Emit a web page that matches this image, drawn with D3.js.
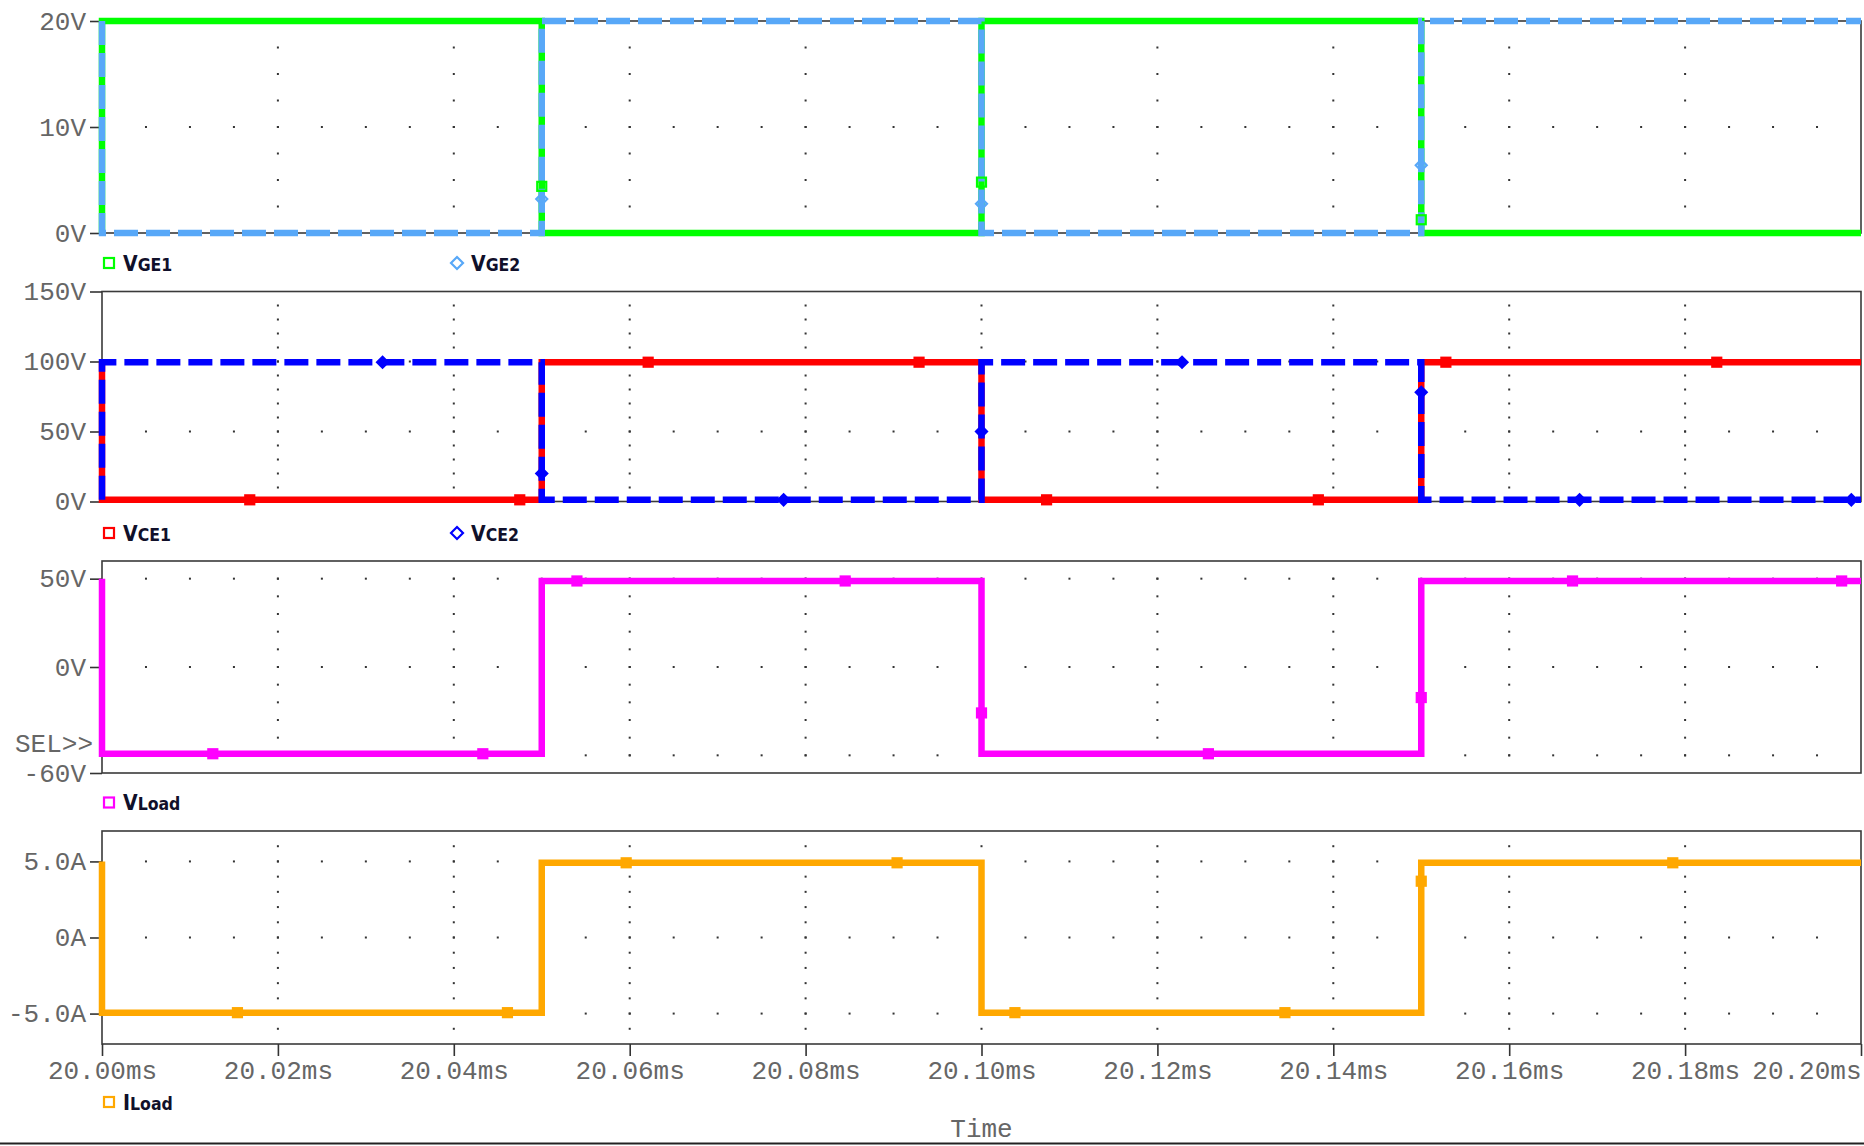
<!DOCTYPE html>
<html>
<head>
<meta charset="utf-8">
<script src="https://cdn.jsdelivr.net/npm/d3@7"></script>
<style>
  html, body { margin: 0; padding: 0; background: #fff; }
  svg { display: block; }
  .tick text, .mono { font-family: "Liberation Mono", "Courier New", monospace; font-size: 26px; fill: #666; }
  .legend-text { font-family: "DejaVu Sans Condensed", "DejaVu Sans", sans-serif; font-stretch: condensed; font-weight: bold; fill: #10102a; }
</style>
</head>
<body>
<svg id="chart" width="1864" height="1146"></svg>
<script>
// ---- Time axis (ms) ----
const timeTicks = [20.00, 20.02, 20.04, 20.06, 20.08, 20.10, 20.12, 20.14, 20.16, 20.18, 20.20];
const timeTickLabels = ["20.00ms", "20.02ms", "20.04ms", "20.06ms", "20.08ms", "20.10ms",
                        "20.12ms", "20.14ms", "20.16ms", "20.18ms", "20.20ms"];

// Switching instants of the traces (ms); each step is a vertical edge
const edgeTime = [20.00, 20.00, 20.05, 20.05, 20.10, 20.10, 20.15, 20.15, 20.20];

// Gate-emitter voltages (V)
const vge1 = [0, 20, 20, 0, 0, 20, 20, 0, 0];
const vge2 = [20, 0, 0, 20, 20, 0, 0, 20, 20];

// Collector-emitter voltages (V)
const vce1 = [99.5, 1.2, 1.2, 99.5, 99.5, 1.2, 1.2, 99.5, 99.5];
const vce2 = [1.2, 99.5, 99.5, 1.2, 1.2, 99.5, 99.5, 1.2, 1.2];

// Load voltage (V) and load current (A)
const vload = [50, -49.1, -49.1, 48.7, 48.7, -49.1, -49.1, 48.7, 48.7];
const iload = [5.0, -4.94, -4.94, 4.91, 4.91, -4.94, -4.94, 4.91, 4.91];

// Trace symbols (time ms, value)
const vge1MarkT = [20.05, 20.10, 20.15];
const vge1MarkV = [4.4, 4.8, 1.25];
const vge2MarkT = [20.05, 20.10, 20.15];
const vge2MarkV = [3.2, 2.75, 6.4];
const vce1MarkT = [20.0168, 20.0475, 20.0621, 20.0929, 20.1074, 20.1383, 20.1528, 20.1836];
const vce1MarkV = [1.2, 1.2, 99.5, 99.5, 1.2, 1.2, 99.5, 99.5];
const vce2MarkT = [20.0319, 20.05, 20.0775, 20.10, 20.1228, 20.15, 20.168, 20.1989];
const vce2MarkV = [99.5, 20, 1.2, 50, 99.5, 78, 1.2, 1.2];
const vloadMarkT = [20.0126, 20.0433, 20.054, 20.0845, 20.10, 20.1258, 20.15, 20.1672, 20.1978];
const vloadMarkV = [-49.1, -49.1, 48.7, 48.7, -26, -49.1, -17.3, 48.7, 48.7];
const iloadMarkT = [20.0154, 20.0461, 20.0596, 20.0904, 20.1038, 20.1345, 20.15, 20.1786];
const iloadMarkV = [-4.94, -4.94, 4.91, 4.91, -4.94, -4.94, 3.7, 4.91];

// ---- Y axis ticks per plot ----
const vgeTicks = [0, 10, 20];
const vgeTickLabels = ["0V", "10V", "20V"];
const vceTicks = [0, 50, 100, 150];
const vceTickLabels = ["0V", "50V", "100V", "150V"];
const vloadTicks = [-60, 0, 50];
const vloadTickLabels = ["-60V", "0V", "50V"];
const iloadTicks = [-5, 0, 5];
const iloadTickLabels = ["-5.0A", "0A", "5.0A"];

// ---- Layout ----
const svg = d3.select("#chart");
const left = 102, right = 1861;
const x = d3.scaleLinear().domain([20.00, 20.20]).range([left, right]);
const traceWidth = 6.5;

const plots = [
  { top: 21, bottom: 233, domain: [0, 20], ticks: vgeTicks, labels: vgeTickLabels,
    dotStep: 2.5, rows: [10], legendY: 263,
    traces: [
      { name: ["V", "GE1"], values: vge1, color: "#00ff00", dash: null, symbol: "square", fill: false, mt: vge1MarkT, mv: vge1MarkV },
      { name: ["V", "GE2"], values: vge2, color: "#58a8f8", dash: "24,8", symbol: "diamond", fill: false, mt: vge2MarkT, mv: vge2MarkV }
    ] },
  { top: 291.5, bottom: 501.5, domain: [0, 150], ticks: vceTicks, labels: vceTickLabels,
    dotStep: 10, rows: [50, 100], legendY: 533,
    traces: [
      { name: ["V", "CE1"], values: vce1, color: "#ff0000", dash: null, symbol: "square", fill: true, mt: vce1MarkT, mv: vce1MarkV },
      { name: ["V", "CE2"], values: vce2, color: "#0000ff", dash: "24,8", symbol: "diamond", fill: true, mt: vce2MarkT, mv: vce2MarkV }
    ] },
  { top: 561, bottom: 773, domain: [-60, 60], ticks: vloadTicks, labels: vloadTickLabels,
    dotStep: 10, rows: [-50, 0, 50], legendY: 802.5, sel: true,
    traces: [
      { name: ["V", "Load"], values: vload, color: "#ff00ff", dash: null, symbol: "square", fill: true, mt: vloadMarkT, mv: vloadMarkV }
    ] },
  { top: 831, bottom: 1044, domain: [-7, 7], ticks: iloadTicks, labels: iloadTickLabels,
    dotStep: 1, rows: [-5, 0, 5], legendY: 1102, xAxis: true,
    traces: [
      { name: ["I", "Load"], values: iload, color: "#ffa800", dash: null, symbol: "square", fill: true, mt: iloadMarkT, mv: iloadMarkV }
    ] }
];

const legendX = [109, 457];

function drawSymbol(g, type, cx, cy, color, size, filled) {
  const fill = filled ? color : "none";
  if (type === "square") {
    g.append("rect")
      .attr("x", cx - size / 2).attr("y", cy - size / 2)
      .attr("width", size).attr("height", size)
      .attr("fill", fill).attr("stroke", color).attr("stroke-width", 2.2);
  } else {
    const h = size / 2 + 1;
    g.append("path")
      .attr("d", `M${cx},${cy - h}L${cx + h},${cy}L${cx},${cy + h}L${cx - h},${cy}Z`)
      .attr("fill", fill).attr("stroke", color).attr("stroke-width", 2.2);
  }
}

plots.forEach(p => {
  const y = d3.scaleLinear().domain(p.domain).range([p.bottom, p.top]);
  const g = svg.append("g");

  // dotted grid: columns at the major time ticks, rows at selected levels
  const dots = g.append("g").attr("fill", "#333");
  const inner = timeTicks.slice(1, -1);
  const lo = p.domain[0], hi = p.domain[1];
  const colVals = d3.range(lo + p.dotStep, hi - p.dotStep / 2, p.dotStep);
  inner.forEach(t => {
    colVals.forEach(v => {
      dots.append("rect").attr("x", x(t) - 1).attr("y", y(v) - 1).attr("width", 2).attr("height", 2);
    });
  });
  const rowTimes = d3.range(1, 40).map(i => 20.00 + i * 0.005);
  p.rows.forEach(v => {
    rowTimes.forEach(t => {
      dots.append("rect").attr("x", x(t) - 1).attr("y", y(v) - 1).attr("width", 2).attr("height", 2);
    });
  });

  // plot frame
  g.append("rect")
    .attr("x", left).attr("y", p.top)
    .attr("width", right - left).attr("height", p.bottom - p.top)
    .attr("fill", "none").attr("stroke", "#3a3a3a").attr("stroke-width", 1.6);

  // y axis
  const yAxis = d3.axisLeft(y)
    .tickValues(p.ticks)
    .tickFormat((d, i) => p.labels[i])
    .tickSize(12).tickPadding(4);
  const ya = g.append("g").attr("transform", `translate(${left},0)`).call(yAxis);
  ya.select(".domain").remove();
  ya.selectAll(".tick line").attr("stroke", "#333").attr("stroke-width", 1.6);
  ya.attr("font-family", null).attr("font-size", null);

  if (p.sel) {
    g.append("text").attr("class", "mono")
      .attr("x", 93).attr("y", 752).attr("text-anchor", "end").text("SEL>>");
  }

  // traces
  const line = d3.line().x(d => x(d[0])).y(d => y(d[1]));
  p.traces.forEach(tr => {
    g.append("path")
      .datum(d3.zip(edgeTime, tr.values))
      .attr("d", line)
      .attr("fill", "none")
      .attr("stroke", tr.color)
      .attr("stroke-width", traceWidth)
      .attr("stroke-dasharray", tr.dash)
      .attr("stroke-linejoin", "miter");
  });
  p.traces.forEach(tr => {
    const mg = g.append("g");
    tr.mt.forEach((t, i) => drawSymbol(mg, tr.symbol, x(t), y(tr.mv[i]), tr.color, 9, tr.fill));
  });

  // legend
  p.traces.forEach((tr, i) => {
    const lg = svg.append("g");
    const lx = legendX[i];
    drawSymbol(lg, tr.symbol, lx, p.legendY, tr.color, 10, false);
    const txt = lg.append("text").attr("class", "legend-text")
      .attr("x", lx + 14).attr("y", p.legendY + 7.5);
    txt.append("tspan").attr("font-size", "21px").text(tr.name[0]);
    txt.append("tspan").attr("font-size", "17.5px").text(tr.name[1]);
  });

  // time axis under the last plot
  if (p.xAxis) {
    const xAxis = d3.axisBottom(x)
      .tickValues(timeTicks)
      .tickFormat((d, i) => timeTickLabels[i])
      .tickSize(12);
    const xa = g.append("g").attr("transform", `translate(0,${p.bottom})`).call(xAxis);
    xa.select(".domain").remove();
    xa.attr("font-family", null).attr("font-size", null);
    xa.selectAll(".tick line").attr("stroke", "#333").attr("stroke-width", 1.6);
    xa.selectAll(".tick text").attr("y", 27).attr("dy", "0.32em");
    // the final label is right-aligned to the frame edge
    xa.selectAll(".tick text").filter((d, i) => i === timeTicks.length - 1)
      .attr("text-anchor", "end").attr("x", 0);
    g.append("text").attr("class", "mono")
      .attr("x", x(20.10)).attr("y", 1137).attr("text-anchor", "middle").text("Time");
  }
});

// window frame line along the bottom
svg.append("line")
  .attr("x1", 0).attr("x2", 1864).attr("y1", 1143.5).attr("y2", 1143.5)
  .attr("stroke", "#222").attr("stroke-width", 2);
</script>
</body>
</html>
